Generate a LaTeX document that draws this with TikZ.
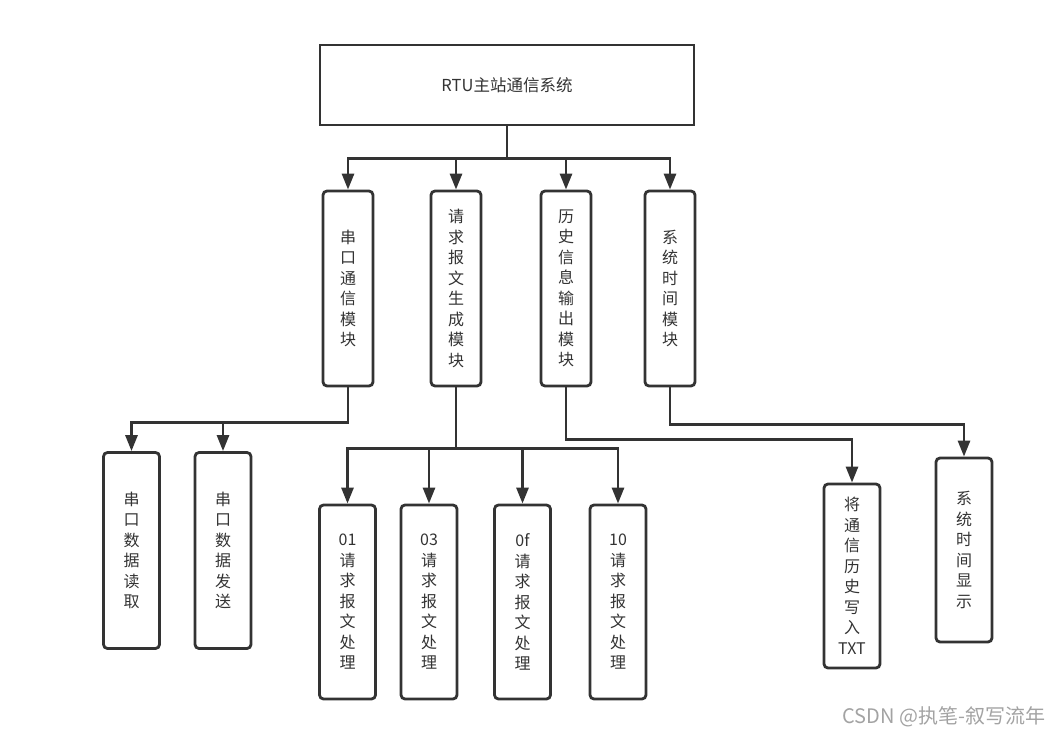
\documentclass[tikz,border=0pt]{standalone}
\usepackage{fontspec}
\newfontfamily\cjk{Noto Sans CJK SC}
\usetikzlibrary{arrows.meta,positioning}
\definecolor{linegray}{HTML}{333333}
\definecolor{markgray}{HTML}{A3A3A3}
\tikzset{
	sysbox/.style={
		rectangle,
		draw=linegray,
		line width=2.8pt,
		minimum width=374pt,
		minimum height=80pt,
		text=linegray,
		font=\cjk\fontsize{16.5}{20.5}\selectfont,
	},
	modbox/.style={
		rectangle,
		rounded corners=4pt,
		draw=linegray,
		line width=2.8pt,
		minimum width=50pt,
		minimum height=195pt,
		inner xsep=2pt,
		align=center,
		text=linegray,
		font=\cjk\fontsize{16}{20.5}\selectfont,
	},
	subbox/.style={
		modbox,
		minimum width=56pt,
		minimum height=196pt,
	},
	arc/.style={
		-{Triangle[length=16pt,width=12pt]},
		line width=2.8pt,
		draw=linegray,
	}
}
\begin{document}
\begin{tikzpicture}[x=1pt,y=-1pt]
	\useasboundingbox (0,0) rectangle (1058,736);

	\node [sysbox] (sys) at (507,85) {RTU主站通信系统};

	\node [modbox] (ck) at (348,288.5) {串\\口\\通\\信\\模\\块};
	\node [modbox] (qq) at (456,288.5) {请\\求\\报\\文\\生\\成\\模\\块};
	\node [modbox] (ls) at (566,288.5) {历\\史\\信\\息\\输\\出\\模\\块};
	\node [modbox] (sj) at (670,288.5) {系\\统\\时\\间\\模\\块};

	\node [subbox] (ck1) at (131.5,550.5) {串\\口\\数\\据\\读\\取};
	\node [subbox] (ck2) at (223,550.5) {串\\口\\数\\据\\发\\送};

	\node [subbox,minimum height=194pt] (qq1) at (347.5,602) {01\\请\\求\\报\\文\\处\\理};
	\node [subbox,minimum height=194pt] (qq2) at (429,602) {03\\请\\求\\报\\文\\处\\理};
	\node [subbox,minimum height=194pt] (qq3) at (522.5,602) {0f\\请\\求\\报\\文\\处\\理};
	\node [subbox,minimum height=194pt] (qq4) at (618,602) {10\\请\\求\\报\\文\\处\\理};

	\node [subbox,minimum height=184pt] (ls1) at (852,576) {将\\通\\信\\历\\史\\写\\入\\TXT};
	\node [subbox,minimum height=184pt] (sj1) at (964,550) {系\\统\\时\\间\\显\\示};

	\node [text=markgray,font=\cjk\fontsize{20}{24}\selectfont] (mark) at (944,717) {CSDN @执笔-叙写流年};

	\draw[arc] (sys.south) -- ++(0,32) -| (ck.north);
	\draw[arc] (sys.south) -- ++(0,32) -| (qq.north);
	\draw[arc] (sys.south) -- ++(0,32) -| (ls.north);
	\draw[arc] (sys.south) -- ++(0,32) -| (sj.north);

	\draw[arc] (ck.south) -- ++(0,35) -| (ck1.north);
	\draw[arc] (ck.south) -- ++(0,35) -| (ck2.north);

	\draw[arc] (qq.south) -- ++(0,61) -| (qq1.north);
	\draw[arc] (qq.south) -- ++(0,61) -| (qq2.north);
	\draw[arc] (qq.south) -- ++(0,61) -| (qq3.north);
	\draw[arc] (qq.south) -- ++(0,61) -| (qq4.north);

	\draw[arc] (ls.south) -- ++(0,52) -| (ls1.north);
	\draw[arc] (sj.south) -- ++(0,37) -| (sj1.north);
\end{tikzpicture}
\end{document}
